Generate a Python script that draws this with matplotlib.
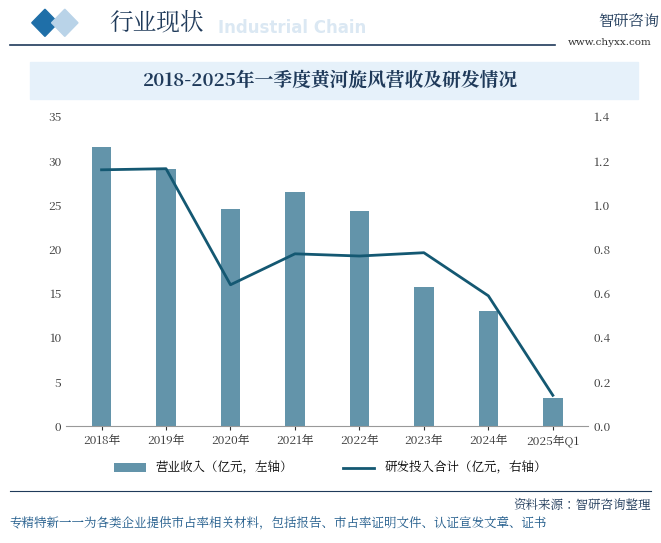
import glob
import matplotlib.pyplot as plt
from matplotlib import font_manager
from matplotlib.patches import Rectangle, Polygon

# find a CJK font file and use whatever name it registers under
cjk = [f.name for f in font_manager.fontManager.ttflist if "CJK" in f.name]
for p in glob.glob("/usr/share/fonts/**/*CJK*", recursive=True):
    try:
        font_manager.fontManager.addfont(p)
        cjk.append(font_manager.FontProperties(fname=p).get_name())
    except Exception:
        pass
plt.rcParams["font.family"] = ["Noto Sans CJK SC"] + cjk + ["DejaVu Sans"]

years = ["2018年", "2019年", "2020年", "2021年", "2022年", "2023年", "2024年", "2025年Q1"]
revenue = [31.6, 29.1, 24.6, 26.5, 24.3, 15.7, 13.0, 3.2]
rnd = [1.16, 1.165, 0.64, 0.78, 0.77, 0.785, 0.59, 0.14]

fig = plt.figure(figsize=(6.61, 5.43), dpi=100)

# header
fig.text(0.165, 0.958, "行业现状", fontsize=17, color="#1f3a5a", va="center")
fig.text(0.33, 0.948, "Industrial Chain", fontsize=12, color="#dbe8f3", weight="bold", va="center",
         family="DejaVu Sans")
fig.patches.append(Polygon([[0.048, 0.958], [0.068, 0.983], [0.088, 0.958], [0.068, 0.933]],
                           closed=True, transform=fig.transFigure, color="#1f6fa8"))
fig.patches.append(Polygon([[0.078, 0.958], [0.098, 0.983], [0.118, 0.958], [0.098, 0.933]],
                           closed=True, transform=fig.transFigure, color="#b9d3e8"))
fig.lines.append(plt.Line2D([0.015, 0.84], [0.918, 0.918], transform=fig.transFigure, color="#1f3a5a", lw=1.2))
fig.text(0.905, 0.958, "智研咨询", fontsize=11, color="#1f3a5a", va="center")
fig.text(0.985, 0.922, "www.chyxx.com", fontsize=7.5, color="#333333", va="center", ha="right",
         family="DejaVu Serif")
fig.patches.append(Rectangle((0.045, 0.817), 0.92, 0.068, transform=fig.transFigure, color="#e6f1fa"))
fig.text(0.5, 0.851, "2018-2025年一季度黄河旋风营收及研发情况", fontsize=13.5, weight="bold",
         color="#1f3a5a", ha="center", va="center")

ax = fig.add_axes([0.1, 0.215, 0.79, 0.57])
x = range(len(years))
ax.bar(x, revenue, width=0.3, color="#6394aa", label="营业收入（亿元，左轴）")
ax.set_ylim(0, 35)
ax.set_yticks(range(0, 36, 5))
ax.set_xticks(list(x))
ax.set_xticklabels(years)
ax.set_xlim(-0.55, len(years) - 0.45)
for s in ["top", "right", "left"]:
    ax.spines[s].set_visible(False)
ax.spines["bottom"].set_color("#999999")
ax.tick_params(axis="y", length=0, labelsize=8.5, colors="#333333")
ax.tick_params(axis="x", labelsize=8.5, colors="#333333", length=3)

ax2 = ax.twinx()
ax2.plot(x, rnd, color="#145872", lw=2, label="研发投入合计（亿元，右轴）")
ax2.set_ylim(0, 1.4)
ax2.set_yticks([i / 10 for i in range(0, 15, 2)])
ax2.set_yticklabels([f"{i / 10:.1f}" for i in range(0, 15, 2)])
for s in ["top", "right", "left", "bottom"]:
    ax2.spines[s].set_visible(False)
ax2.tick_params(axis="y", length=0, labelsize=8.5, colors="#333333")

h1, l1 = ax.get_legend_handles_labels()
h2, l2 = ax2.get_legend_handles_labels()
fig.legend(h1 + h2, l1 + l2, loc="center", bbox_to_anchor=(0.5, 0.138), ncol=2, frameon=False,
           fontsize=9, columnspacing=4, handlelength=2.5)

fig.lines.append(plt.Line2D([0.015, 0.985], [0.095, 0.095], transform=fig.transFigure, color="#1f3a5a", lw=0.8))
fig.text(0.985, 0.07, "资料来源：智研咨询整理", fontsize=9, color="#1f3a5a", ha="right", va="center")
fig.text(0.015, 0.035, "专精特新一一为各类企业提供市占率相关材料，包括报告、市占率证明文件、认证宣发文章、证书",
         fontsize=9, color="#1f5a8a", va="center")

fig.savefig("out.png", dpi=100)
